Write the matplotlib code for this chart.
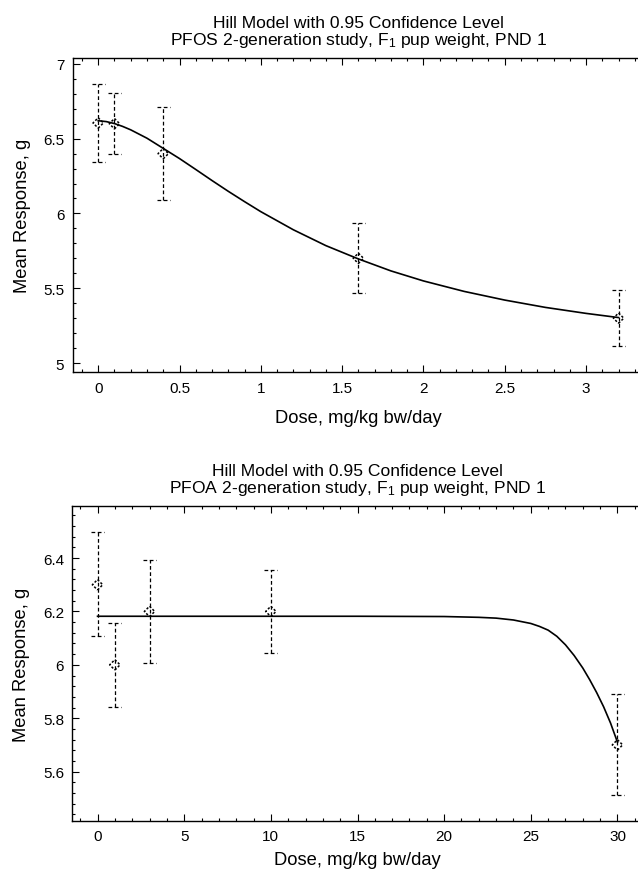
import matplotlib.pyplot as plt
from matplotlib.ticker import MultipleLocator

plt.rcParams['font.family'] = ['Liberation Sans', 'DejaVu Sans']
plt.rcParams['mathtext.default'] = 'regular'

# PFOS panel
pfos_dose = [0, 0.1, 0.4, 1.6, 3.2]
pfos_mean = [6.605, 6.6, 6.4, 5.7, 5.3]
pfos_lower = [6.343, 6.395, 6.09, 5.467, 5.113]
pfos_upper = [6.868, 6.805, 6.71, 5.933, 5.487]
pfos_fit_x = [0, 0.05, 0.1, 0.15, 0.2, 0.3, 0.4, 0.5, 0.6, 0.7, 0.8, 0.9, 1.0,
              1.2, 1.4, 1.6, 1.8, 2.0, 2.25, 2.5, 2.75, 3.0, 3.2]
pfos_fit_y = [6.62, 6.614, 6.601, 6.582, 6.559, 6.503, 6.435, 6.367, 6.294,
              6.22, 6.148, 6.079, 6.012, 5.891, 5.785, 5.696, 5.616, 5.549,
              5.479, 5.421, 5.372, 5.332, 5.304]

# PFOA panel
pfoa_dose = [0, 1, 3, 10, 30]
pfoa_mean = [6.3, 6.0, 6.2, 6.2, 5.7]
pfoa_lower = [6.109, 5.843, 6.006, 6.045, 5.513]
pfoa_upper = [6.496, 6.157, 6.394, 6.355, 5.892]
pfoa_fit_x = [0, 5, 10, 15, 20, 22, 23, 24, 25, 25.5, 26, 26.5, 27, 27.5, 28,
              28.4, 28.8, 29.2, 29.6, 30]
pfoa_fit_y = [6.182, 6.182, 6.182, 6.182, 6.181, 6.178, 6.175, 6.168, 6.155,
              6.144, 6.13, 6.107, 6.075, 6.035, 5.988, 5.944, 5.896, 5.843,
              5.782, 5.71]

TITLE1 = "Hill Model with 0.95 Confidence Level"
panels = [
    dict(rect=[0.1139, 0.5709, 0.8964, 0.3609],
         dose=pfos_dose, mean=pfos_mean, lo=pfos_lower, hi=pfos_upper,
         fx=pfos_fit_x, fy=pfos_fit_y,
         xlim=(-0.157, 3.36), ylim=(4.938, 7.037),
         xmaj=0.5, xmin=0.1, ymaj=0.5, ymin=0.1, xpad=10,
         title=TITLE1 + "\nPFOS 2-generation study, F$_1$ pup weight, PND 1"),
    dict(rect=[0.1135, 0.0555, 0.8937, 0.3614],
         dose=pfoa_dose, mean=pfoa_mean, lo=pfoa_lower, hi=pfoa_upper,
         fx=pfoa_fit_x, fy=pfoa_fit_y,
         xlim=(-1.45, 31.45), ylim=(5.416, 6.594),
         xmaj=5, xmin=1, ymaj=0.2, ymin=0.04, xpad=6,
         title=TITLE1 + "\nPFOA 2-generation study, F$_1$ pup weight, PND 1"),
]

fig = plt.figure(figsize=(6.38, 8.70), dpi=100)
dash = (0, (3, 2))
CAP_PX = 6.5

for p in panels:
    ax = fig.add_axes(p['rect'])
    ax.set_xlim(*p['xlim'])
    ax.set_ylim(*p['ylim'])

    ax.plot(p['fx'], p['fy'], color='black', lw=1.2, zorder=3)
    ax.vlines(p['dose'], p['lo'], p['hi'], colors='black', lw=0.9,
              linestyles=[dash], zorder=2)
    # cap half-width converted from pixels to data units
    ax_w_px = p['rect'][2] * fig.get_figwidth() * fig.dpi
    half = CAP_PX * (p['xlim'][1] - p['xlim'][0]) / ax_w_px
    for d, lo, hi in zip(p['dose'], p['lo'], p['hi']):
        ax.hlines([lo, hi], d - half, d + half, colors='black', lw=0.9,
                  linestyles=[dash], zorder=2)
    ax.scatter(p['dose'], p['mean'], marker='D', s=28, facecolors='none',
               edgecolors='black', linewidths=1.1, linestyles=[(0, (1.5, 1.2))],
               zorder=4)

    ax.xaxis.set_major_locator(MultipleLocator(p['xmaj']))
    ax.xaxis.set_minor_locator(MultipleLocator(p['xmin']))
    ax.yaxis.set_major_locator(MultipleLocator(p['ymaj']))
    ax.yaxis.set_minor_locator(MultipleLocator(p['ymin']))
    ax.xaxis.set_major_formatter(plt.FuncFormatter(lambda v, _: f"{v:g}"))
    ax.yaxis.set_major_formatter(plt.FuncFormatter(lambda v, _: f"{v:g}"))
    ax.tick_params(which='both', direction='in', top=True, right=False,
                   labelsize=11, width=0.8)
    ax.tick_params(which='major', length=5, pad=6)
    ax.tick_params(which='minor', length=2.5)
    for s in ax.spines.values():
        s.set_linewidth(1.0)

    ax.set_xlabel("Dose, mg/kg bw/day", fontsize=13.2, labelpad=p['xpad'])
    ax.set_ylabel("Mean Response, g", fontsize=13.2, labelpad=9)
    ax.set_title(p['title'], fontsize=12.6, linespacing=1.05, pad=10)

fig.savefig("out.png", dpi=100)
